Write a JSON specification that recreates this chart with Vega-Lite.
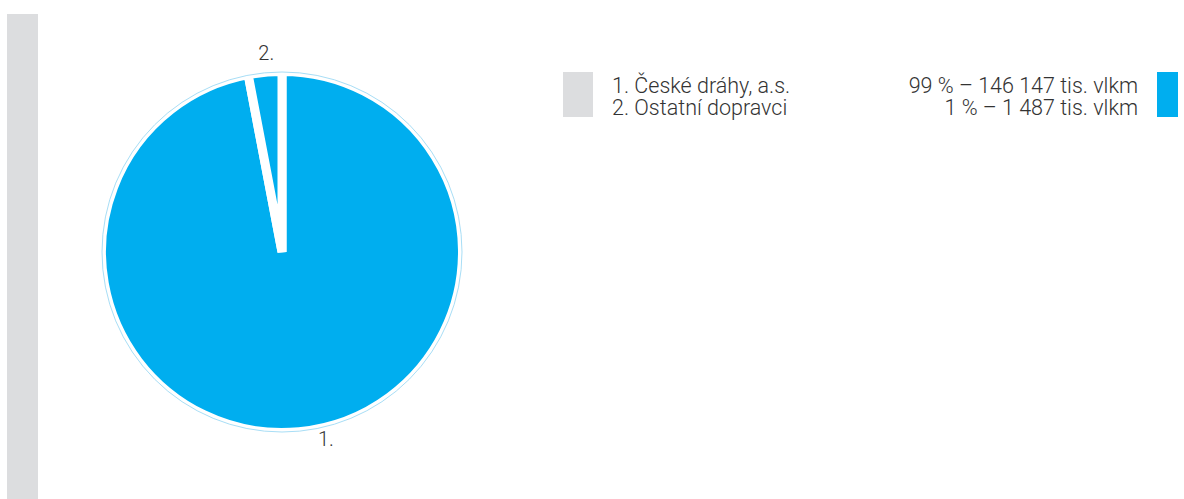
{
  "$schema": "https://vega.github.io/schema/vega-lite/v6.json",
  "background": "white",
  "padding": {"left": 7, "top": 14, "right": 0, "bottom": 0},
  "config": {
    "view": {"stroke": null},
    "concat": {"spacing": 0},
    "text": {"font": "Roboto", "fontWeight": 300, "fontSize": 21.5, "color": "#333333"}
  },
  "datasets": {
    "carriers": [
      {"id": 1, "label": "1.", "carrier": "České dráhy, a.s.", "legend_name": "1. České dráhy, a.s.", "pct": 99, "vlkm_thousands": 146147, "legend_value": "99 % – 146 147 tis. vlkm", "share_drawn": 97},
      {"id": 2, "label": "2.", "carrier": "Ostatní dopravci", "legend_name": "2. Ostatní dopravci", "pct": 1, "vlkm_thousands": 1487, "legend_value": "1 % – 1 487 tis. vlkm", "share_drawn": 3}
    ]
  },
  "data": {"name": "carriers"},
  "bounds": "flush",
  "spacing": 0,
  "hconcat": [
    {
      "width": 31,
      "height": 485,
      "mark": {"type": "rect", "color": "#dcdddf"},
      "encoding": {}
    },
    {
      "width": 488,
      "height": 476,
      "layer": [
        {
          "mark": {"type": "arc", "radius": 180.5, "fill": "#00aeef", "stroke": "white", "strokeWidth": 9},
          "encoding": {
            "theta": {"field": "share_drawn", "type": "quantitative", "stack": true},
            "order": {"field": "id", "type": "ordinal"}
          }
        },
        {
          "mark": {"type": "arc", "radius": 180, "filled": false, "color": "#a8def6", "strokeWidth": 1},
          "encoding": {
            "theta": {"aggregate": "sum", "field": "share_drawn", "type": "quantitative"}
          }
        },
        {
          "mark": {"type": "text", "radius": 199, "dx": 3, "baseline": "middle", "align": "center", "fontSize": 20},
          "encoding": {
            "theta": {"field": "share_drawn", "type": "quantitative", "stack": true},
            "order": {"field": "id", "type": "ordinal"},
            "text": {"condition": {"test": "datum.id == 2", "field": "label"}, "value": ""}
          }
        },
        {
          "mark": {"type": "text", "radius": 190, "dx": 26, "dy": -1, "baseline": "middle", "align": "center", "fontSize": 20},
          "encoding": {
            "theta": {"field": "share_drawn", "type": "quantitative", "stack": true},
            "order": {"field": "id", "type": "ordinal"},
            "text": {"condition": {"test": "datum.id == 1", "field": "label"}, "value": ""}
          }
        }
      ]
    },
    {
      "bounds": "flush",
      "spacing": 0,
      "vconcat": [
        {
          "width": 10,
          "height": 58,
          "mark": {"type": "rect", "opacity": 0},
          "encoding": {}
        },
        {
          "bounds": "flush",
          "spacing": 0,
          "hconcat": [
            {
              "width": 37,
              "height": 45,
              "mark": {"type": "rect", "opacity": 0},
              "encoding": {}
            },
            {
              "width": 30,
              "height": 45,
              "mark": {"type": "rect", "color": "#dcdddf"},
              "encoding": {}
            },
            {
              "width": 564,
              "height": 45,
              "layer": [
                {
                  "mark": {"type": "text", "align": "left", "baseline": "alphabetic", "dx": 19, "dy": 9.4},
                  "encoding": {
                    "x": {"value": 0},
                    "y": {"field": "id", "type": "nominal", "axis": null},
                    "text": {"field": "legend_name"}
                  }
                },
                {
                  "mark": {"type": "text", "align": "right", "baseline": "alphabetic", "dx": -19, "dy": 9.4},
                  "encoding": {
                    "x": {"value": "width"},
                    "y": {"field": "id", "type": "nominal", "axis": null},
                    "text": {"field": "legend_value"}
                  }
                }
              ]
            },
            {
              "width": 21,
              "height": 45,
              "mark": {"type": "rect", "color": "#00aeef"},
              "encoding": {}
            }
          ]
        }
      ]
    }
  ]
}
